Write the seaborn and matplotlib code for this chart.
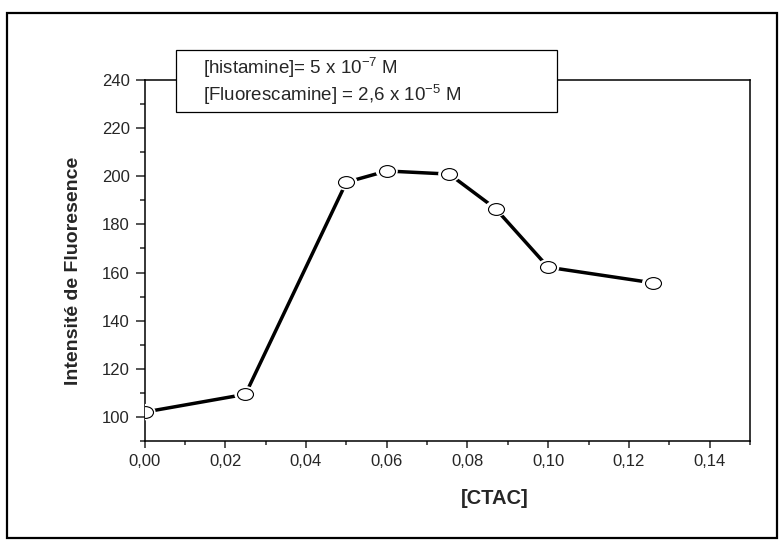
import numpy as np
import pandas as pd
import seaborn as sns
import matplotlib.pyplot as plt
import matplotlib.ticker as mticker
from matplotlib.path import Path
from matplotlib.patches import Rectangle

# --- data ---
ctac = [0.0, 0.025, 0.05, 0.06, 0.0755, 0.087, 0.10, 0.126]
intensity = [102, 109.4, 197.5, 202.2, 200.9, 186.5, 162.2, 155.7]

xlabel = "[CTAC]"
ylabel = "Intensité de Fluoresence"
note_line1 = r"[histamine]= 5 x 10$^{-7}$ M"
note_line2 = r"[Fluorescamine] = 2,6 x 10$^{-5}$ M"

df = pd.DataFrame({"CTAC": ctac, "Intensite": intensity})

sns.set_style("ticks")
plt.rcParams["font.family"] = ["Liberation Sans", "DejaVu Sans"]
plt.rcParams["mathtext.fontset"] = "custom"
plt.rcParams["mathtext.rm"] = "Liberation Sans"
plt.rcParams["mathtext.it"] = "Liberation Sans:italic"
plt.rcParams["mathtext.bf"] = "Liberation Sans:bold"

fig = plt.figure(figsize=(7.8, 5.41), dpi=100)
ax = fig.add_axes([144.5 / 780, 1 - 441 / 541, (750 - 144.5) / 780, (441 - 80) / 541])

# ellipse marker (wider than tall)
circ = Path.unit_circle()
ellipse = Path(circ.vertices * np.array([1.35, 1.0]), circ.codes)

sns.lineplot(data=df, x="CTAC", y="Intensite", ax=ax, color="black", linewidth=2.5, zorder=2)
# white halo so the line stops short of the markers
sns.scatterplot(data=df, x="CTAC", y="Intensite", ax=ax, marker=ellipse, s=16 ** 2,
                color="white", edgecolor="none", linewidth=0, zorder=3)
sns.scatterplot(data=df, x="CTAC", y="Intensite", ax=ax, marker=ellipse, s=11.5 ** 2,
                color="white", edgecolor="black", linewidth=0.8, zorder=4)

ax.set_xlim(0, 0.15)
ax.set_ylim(90, 240)
ax.xaxis.set_major_locator(mticker.MultipleLocator(0.02))
ax.xaxis.set_minor_locator(mticker.MultipleLocator(0.01))
ax.yaxis.set_major_locator(mticker.MultipleLocator(20))
ax.yaxis.set_minor_locator(mticker.MultipleLocator(10))
ax.xaxis.set_major_formatter(mticker.FuncFormatter(lambda v, p: f"{v:.2f}".replace(".", ",")))
ax.yaxis.set_major_formatter(mticker.FuncFormatter(lambda v, p: f"{v:.0f}"))

for s in ax.spines.values():
    s.set_linewidth(1.1)
    s.set_color("black")
ax.tick_params(axis="x", which="major", direction="out", length=5, width=1.1, pad=4, labelsize=12)
ax.tick_params(axis="x", which="minor", direction="out", length=3, width=1.1)
ax.tick_params(axis="y", which="major", direction="out", length=6.5, width=1.1, pad=4, labelsize=12)
ax.tick_params(axis="y", which="minor", direction="out", length=3.5, width=1.1)
ax.tick_params(top=False, right=False, which="both")

ax.set_xlabel(xlabel, fontsize=14.5, fontweight="bold")
ax.set_ylabel(ylabel, fontsize=14, fontweight="bold")
ax.xaxis.set_label_coords((495 - 144.5) / 605.5, -(498 - 441) / 361)
ax.yaxis.set_label_coords(-(144.5 - 73) / 605.5, (441 - 271) / 361)
ax.xaxis.label.set_va("center")
ax.yaxis.label.set_va("center")

# note box above the axes
fig.patches.append(Rectangle((176 / 780, 1 - 112 / 541), 381 / 780, 62 / 541,
                             transform=fig.transFigure, facecolor="white",
                             edgecolor="black", linewidth=0.9, zorder=5))
fig.text(203 / 780, 1 - 68 / 541, note_line1, fontsize=13.5, va="center", ha="left", zorder=6)
fig.text(203 / 780, 1 - 95 / 541, note_line2, fontsize=13.5, va="center", ha="left", zorder=6)

# outer frame
fig.patches.append(Rectangle((7 / 780, 1 - 538 / 541), 770 / 780, 525 / 541,
                             transform=fig.transFigure, facecolor="none",
                             edgecolor="black", linewidth=1.6, zorder=0))

fig.savefig("out.png", dpi=100)
